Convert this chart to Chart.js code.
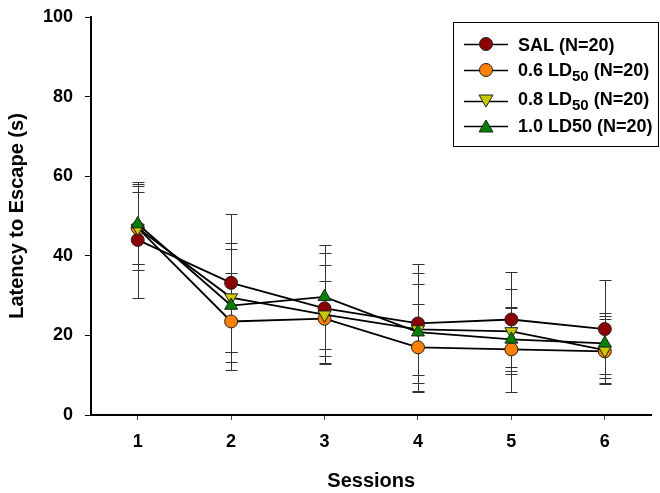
<!DOCTYPE html>
<html>
<head>
<meta charset="utf-8">
<script src="https://cdn.jsdelivr.net/npm/chart.js@4/dist/chart.umd.min.js"></script>
<style>
html,body{margin:0;padding:0;background:#fff;}
#wrap{width:660px;height:493px;position:relative;}
</style>
</head>
<body>
<div id="wrap"><canvas id="c" width="660" height="493"></canvas></div>
<script>
const sessions = ['1','2','3','4','5','6'];
const yTicks = [0,20,40,60,80,100];

const salMean  = [44.0, 33.2, 26.8, 23.0, 24.0, 21.6];
const salErr   = [14.5, 17.3, 13.8, 15.0, 12.0, 12.4];
const ld06Mean = [47.0, 23.5, 24.2, 17.0, 16.5, 16.0];
const ld06Err  = [9.0, 12.3, 9.5, 11.0, 10.7, 8.0];
const ld08Mean = [47.0, 29.5, 25.2, 21.5, 21.0, 16.3];
const ld08Err  = [10.5, 13.6, 12.5, 11.5, 10.7, 8.6];
const ld10Mean = [48.0, 27.5, 29.7, 20.8, 19.0, 18.0];
const ld10Err  = [10.0, 14.3, 13.0, 15.0, 8.0, 7.7];

const legendLabels = [
  {pre:'SAL (N=20)', sub:'', post:''},
  {pre:'0.6 LD', sub:'50', post:' (N=20)'},
  {pre:'0.8 LD', sub:'50', post:' (N=20)'},
  {pre:'1.0 LD50 (N=20)', sub:'', post:''}
];

const FONT = '"Liberation Sans", Arial, sans-serif';

const datasets = [
  {label:'SAL (N=20)', data:salMean, err:salErr, backgroundColor:'#8b0000', pointStyle:'circle', pointRadius:6.5, rotation:0, order:3},
  {label:'0.6 LD50 (N=20)', data:ld06Mean, err:ld06Err, backgroundColor:'#ff8000', pointStyle:'circle', pointRadius:6.5, rotation:0, order:2},
  {label:'0.8 LD50 (N=20)', data:ld08Mean, err:ld08Err, backgroundColor:'#c8c800', pointStyle:'triangle', pointRadius:7.5, rotation:180, order:1},
  {label:'1.0 LD50 (N=20)', data:ld10Mean, err:ld10Err, backgroundColor:'#008000', pointStyle:'triangle', pointRadius:7.5, rotation:0, order:0}
].map(d => Object.assign({
  borderColor:'#000',
  borderWidth:1.8,
  pointBorderColor:'#222',
  pointBorderWidth:1,
  pointBackgroundColor:d.backgroundColor,
  pointRotation:d.rotation,
  pointHoverRadius:d.pointRadius,
  fill:false,
  tension:0
}, d));

const errorBars = {
  id:'errorBars',
  beforeDatasetsDraw(chart){
    const ctx = chart.ctx, y = chart.scales.y;
    ctx.save();
    ctx.strokeStyle = '#333';
    ctx.lineWidth = 1;
    chart.data.datasets.forEach((ds, di) => {
      const meta = chart.getDatasetMeta(di);
      meta.data.forEach((pt, i) => {
        const x = Math.round(pt.x) + 0.5;
        const yt = Math.round(y.getPixelForValue(ds.data[i] + ds.err[i])) + 0.5;
        const yb = Math.round(y.getPixelForValue(ds.data[i] - ds.err[i])) + 0.5;
        ctx.beginPath();
        ctx.moveTo(x, yt); ctx.lineTo(x, yb);
        ctx.moveTo(x - 6, yt); ctx.lineTo(x + 6, yt);
        ctx.moveTo(x - 6, yb); ctx.lineTo(x + 6, yb);
        ctx.stroke();
      });
    });
    ctx.restore();
  }
};

const customLegend = {
  id:'customLegend',
  afterDraw(chart){
    const ctx = chart.ctx;
    ctx.save();
    ctx.strokeStyle = '#000';
    ctx.lineWidth = 1;
    ctx.strokeRect(453.5, 22.5, 205, 124);
    const rows = [44, 70, 101, 126];
    const base = [51, 76, 105, 132];
    chart.data.datasets.forEach((ds, i) => {
      const cy = rows[i];
      ctx.strokeStyle = '#000';
      ctx.lineWidth = 1.5;
      ctx.beginPath(); ctx.moveTo(464, cy + 0.5); ctx.lineTo(508, cy + 0.5); ctx.stroke();
      ctx.fillStyle = ds.backgroundColor;
      ctx.strokeStyle = '#222';
      ctx.lineWidth = 1;
      const cx = 486;
      ctx.beginPath();
      if (ds.pointStyle === 'circle') {
        ctx.arc(cx, cy, 6.5, 0, Math.PI * 2);
      } else if (ds.rotation === 180) {
        ctx.moveTo(cx - 7, cy - 6); ctx.lineTo(cx + 7, cy - 6); ctx.lineTo(cx, cy + 6); ctx.closePath();
      } else {
        ctx.moveTo(cx - 7, cy + 6); ctx.lineTo(cx + 7, cy + 6); ctx.lineTo(cx, cy - 6); ctx.closePath();
      }
      ctx.fill(); ctx.stroke();
      const L = legendLabels[i];
      ctx.fillStyle = '#000';
      ctx.textBaseline = 'alphabetic';
      ctx.textAlign = 'left';
      let x = 518;
      ctx.font = 'bold 18px ' + FONT;
      ctx.fillText(L.pre, x, base[i]);
      x += ctx.measureText(L.pre).width;
      if (L.sub) {
        ctx.font = 'bold 15px ' + FONT;
        ctx.fillText(L.sub, x, base[i] + 5);
        x += ctx.measureText(L.sub).width;
        ctx.font = 'bold 18px ' + FONT;
        ctx.fillText(L.post, x, base[i]);
      }
    });
    ctx.restore();
  }
};

new Chart(document.getElementById('c'), {
  type:'line',
  data:{labels:sessions, datasets:datasets},
  plugins:[errorBars, customLegend],
  options:{
    responsive:false,
    animation:false,
    layout:{padding:{top:17, right:1, left:0, bottom:0}},
    plugins:{legend:{display:false}, tooltip:{enabled:false}},
    scales:{
      x:{
        type:'category',
        offset:true,
        grid:{display:true, offset:false, drawOnChartArea:false, drawTicks:true, tickLength:5, color:'#444', lineWidth:1},
        border:{display:true, color:'#000', width:2},
        ticks:{color:'#000', font:{family:FONT, size:18, weight:'bold'}, padding:11, maxRotation:0},
        title:{display:true, text:'Sessions', color:'#000', font:{family:FONT, size:20, weight:'bold'}, padding:{top:4, bottom:0}},
        afterFit(s){ s.height = 78; s.paddingLeft = 0; s.paddingRight = 0; }
      },
      y:{
        min:0, max:100,
        afterBuildTicks(s){ s.ticks = yTicks.map(v => ({value:v})); },
        grid:{display:true, drawOnChartArea:false, drawTicks:true, tickLength:6, color:'#000', lineWidth:1},
        border:{display:true, color:'#000', width:2},
        ticks:{color:'#000', font:{family:FONT, size:18, weight:'bold'}, padding:12},
        title:{display:true, text:'Latency to Escape (s)', color:'#000', font:{family:FONT, size:20, weight:'bold'}, padding:{top:5, bottom:4}},
        afterFit(s){ s.width = 91; s.paddingTop = 0; s.paddingBottom = 0; }
      }
    }
  }
});
</script>
</body>
</html>
